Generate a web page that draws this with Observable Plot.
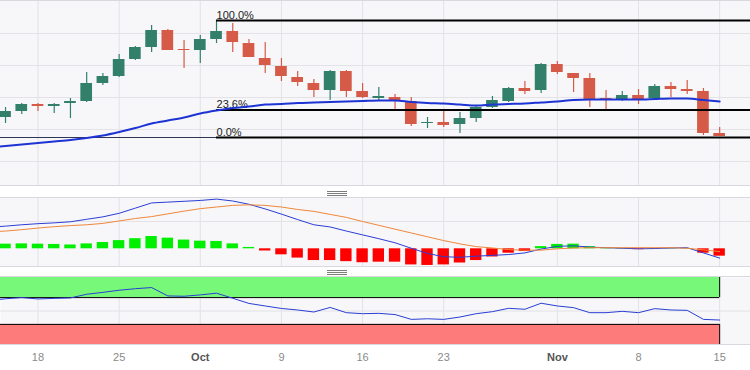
<!DOCTYPE html>
<html><head><meta charset="utf-8">
<script src="https://cdn.jsdelivr.net/npm/d3@7"></script>
<script src="https://cdn.jsdelivr.net/npm/@observablehq/plot@0.6"></script>
<style>
body{margin:0;background:#fff;font-family:"Liberation Sans",Arial,sans-serif;}
#wrap{position:relative;width:750px;height:370px;overflow:hidden;background:#fff;}
.panel{position:absolute;left:0;width:750px;overflow:hidden;}
.hline{position:absolute;left:0;width:750px;height:1px;background:#d8d8de;}
.grip{position:absolute;left:327px;width:20px;height:1px;background:#7d7d7d;}
</style></head><body><div id="wrap"></div>
<script>
// Trading days (Sep 13 is just off the left edge)
const dates = ["2023-09-13","2023-09-14","2023-09-15","2023-09-18","2023-09-19","2023-09-20","2023-09-21","2023-09-22","2023-09-25","2023-09-26","2023-09-27","2023-09-28","2023-09-29",
"2023-10-02","2023-10-03","2023-10-04","2023-10-05","2023-10-06","2023-10-09","2023-10-10","2023-10-11","2023-10-12","2023-10-13","2023-10-16","2023-10-17","2023-10-18","2023-10-19","2023-10-20","2023-10-23","2023-10-24","2023-10-25","2023-10-26","2023-10-27","2023-10-30","2023-10-31",
"2023-11-01","2023-11-02","2023-11-03","2023-11-06","2023-11-07","2023-11-08","2023-11-09","2023-11-10","2023-11-13","2023-11-14","2023-11-15"];
const open  = [0.9108,0.9116,0.9122,0.9129,0.9127,0.9130,0.9132,0.9150,0.9157,0.9174,0.9186,0.9203,0.9184,0.9183,0.9194,0.9202,0.9190,0.9175,0.9167,0.9156,0.9150,0.9143,0.9162,0.9142,0.9135,0.9136,0.9132,0.9110,0.9111,0.9109,0.9115,0.9126,0.9132,0.9145,0.9143,0.9169,0.9160,0.9155,0.9135,0.9134,0.9138,0.9135,0.9147,0.9144,0.9142,0.9100];
const close = [0.9116,0.9122,0.9129,0.9127,0.9129,0.9132,0.9150,0.9157,0.9174,0.9186,0.9203,0.9183,0.9183,0.9194,0.9202,0.9191,0.9176,0.9168,0.9157,0.9151,0.9143,0.9162,0.9142,0.9136,0.9137,0.9133,0.9109,0.9111,0.9108,0.9115,0.9126,0.9133,0.9145,0.9142,0.9169,0.9161,0.9155,0.9134,0.9134,0.9138,0.9134,0.9147,0.9144,0.9142,0.9100,0.9097];
const high  = [0.9119,0.9126,0.9130,0.9130,0.9130,0.9135,0.9161,0.9160,0.9179,0.9187,0.9208,0.9204,0.9193,0.9198,0.9213,0.9210,0.9194,0.9191,0.9175,0.9162,0.9154,0.9163,0.9163,0.9150,0.9146,0.9139,0.9136,0.9116,0.9122,0.9121,0.9127,0.9137,0.9146,0.9152,0.9170,0.9172,0.9160,0.9160,0.9143,0.9142,0.9144,0.9149,0.9151,0.9153,0.9145,0.9106];
const low   = [0.9104,0.9110,0.9119,0.9122,0.9120,0.9115,0.9131,0.9148,0.9156,0.9173,0.9181,0.9183,0.9165,0.9170,0.9190,0.9181,0.9176,0.9160,0.9152,0.9147,0.9136,0.9133,0.9136,0.9135,0.9133,0.9122,0.9107,0.9105,0.9106,0.9100,0.9111,0.9125,0.9131,0.9139,0.9140,0.9159,0.9141,0.9126,0.9122,0.9132,0.9129,0.9133,0.9136,0.9139,0.9098,0.9097];
const sma   = [0.9086,0.90875,0.9089,0.90905,0.9092,0.90935,0.90955,0.9098,0.91015,0.91055,0.9110,0.9113,0.9116,0.9120,0.9123,0.91255,0.9127,0.9129,0.91295,0.91305,0.9131,0.91315,0.9132,0.91325,0.9133,0.9133,0.91315,0.91305,0.9130,0.9129,0.9128,0.9129,0.91295,0.9130,0.9131,0.9132,0.91335,0.9134,0.9134,0.9134,0.9134,0.91345,0.9135,0.9135,0.91335,0.9132];
const macd  = [7.9,8.3,8.8,9.2,9.5,9.9,10.8,11.7,13.0,14.9,16.8,17.1,17.4,17.7,18.2,17.5,16.3,14.6,12.7,10.7,8.8,8.0,6.5,5.1,3.7,2.2,0.2,-1.7,-2.9,-3.1,-2.7,-2.4,-2.1,-1.5,-0.1,0.9,1.1,0.6,0.4,0.2,0.0,0.1,0.3,0.4,-1.5,-3.4];
const signal= [6.2,6.5,7.0,7.6,8.1,8.5,8.8,9.3,10.2,11.1,11.8,12.8,13.8,14.7,15.3,15.9,16.1,15.9,15.3,14.4,13.7,12.6,11.5,10.0,8.6,7.2,5.8,4.4,3.0,1.8,0.8,0.3,-0.3,-0.5,-0.5,0.0,0.3,0.4,0.4,0.4,0.4,0.4,0.4,0.2,-0.4,-1.0];
const hist  = [1.6,1.7,1.8,1.7,1.6,1.4,1.8,2.3,3.0,3.7,4.5,3.9,3.2,2.8,2.7,1.8,0.5,-0.8,-2.2,-3.4,-4.3,-4.3,-4.7,-5.1,-4.9,-4.9,-5.9,-6.1,-5.9,-5.2,-4.3,-3.0,-1.6,-1.0,0.8,1.6,1.7,0.8,0.2,0.1,-0.3,0.1,0.1,0.1,-1.6,-2.7];
const rsi   = [65.5,68.3,70,68,68.8,69.5,75,77.8,81,83.3,85,72.5,72,74,76.6,69,61.3,57.5,53.8,51.5,48.5,55.3,47.5,46,46.5,44.7,37.5,38.4,37.5,41,46,49,54,52.6,61.6,57.5,55,47.5,47.5,49.5,47.5,53.5,51.5,51,37.5,36.5];

const tickDates  = ["2023-09-18","2023-09-25","2023-10-02","2023-10-09","2023-10-16","2023-10-23","2023-11-01","2023-11-08","2023-11-15"];
const tickLabels = ["18","25","Oct","9","16","23","Nov","8","15"];
const gridPrices = [0.9200,0.9168,0.9136,0.9104,0.9072];
const fibHigh = 0.9213, fibLow = 0.9096, fibStartDate = "2023-10-03";
const fibLevels = [1, 0.236, 0];
const fibLabels = ["100.0%","23.6%","0.0%"];
const macdGrid = [10];
const rsiBands = [70, 30];

const GREEN = "#33806a", RED = "#d65a48", GRID = "#e2e2e7", BG = "#f7f7f9";
const FONT = "'Liberation Sans', Arial, sans-serif";
const xDomain = [0.69, 46.9];
const idx = d3.range(dates.length);
const lastK = idx.length - 1;
const tickIdx = tickDates.map(d => dates.indexOf(d));
const ticks = tickIdx.map((k, i) => ({k, label: tickLabels[i], month: isNaN(+tickLabels[i])}));
const candles = idx.map(k => ({k, o: open[k], c: close[k], h: high[k], l: low[k], up: close[k] >= open[k]}));
const fibK = dates.indexOf(fibStartDate);
const fib = fibLevels.map((f, i) => ({price: fibLow + f * (fibHigh - fibLow), label: fibLabels[i]}));

const main = Plot.plot({
  width: 750, height: 184, margin: 0,
  x: {domain: xDomain, axis: null},
  y: {domain: [0.9048, 0.9232], axis: null},
  style: {background: BG, fontFamily: FONT},
  marks: [
    Plot.ruleY(gridPrices, {stroke: GRID}),
    Plot.ruleX(tickIdx, {stroke: GRID}),
    Plot.ruleY([fibLow], {stroke: "#2f3557", strokeWidth: 1}),
    Plot.ruleX(candles, {x: "k", y1: "l", y2: "h", stroke: d => d.up ? GREEN : RED, strokeWidth: 1.2}),
    Plot.rect(candles, {x1: d => d.k - 0.36, x2: d => d.k + 0.36, y1: d => Math.min(d.o, d.c), y2: d => Math.max(d.o, d.c), fill: d => d.up ? GREEN : RED}),
    Plot.ruleY(fib, {y: "price", x1: fibK, x2: xDomain[1], stroke: "#000", strokeWidth: 2}),
    Plot.text(fib, {x: () => fibK, y: "price", text: "label", textAnchor: "start", lineAnchor: "bottom", dy: -2, fontSize: 11, fill: "#222"}),
    Plot.line(idx, {x: k => k, y: k => sma[k], stroke: "#1d33d4", strokeWidth: 2, curve: "monotone-x", clip: true})
  ]
});

const macdPlot = Plot.plot({
  width: 750, height: 68, margin: 0,
  x: {domain: xDomain, axis: null},
  y: {domain: [-6.48, 18.42], axis: null},
  style: {background: BG, fontFamily: FONT},
  marks: [
    Plot.ruleY(macdGrid, {stroke: GRID}),
    Plot.ruleX(tickIdx, {stroke: GRID}),
    Plot.rect(idx, {x1: k => k - 0.35, x2: k => k + 0.35, y1: k => 0, y2: k => hist[k], fill: k => hist[k] >= 0 ? "#00ee00" : "#ff0000"}),
    Plot.line(idx, {x: k => k, y: k => macd[k], stroke: "#2b3dd6", strokeWidth: 1, clip: true}),
    Plot.line(idx, {x: k => k, y: k => signal[k], stroke: "#f0873a", strokeWidth: 1, clip: true})
  ]
});

const rsiPlot = Plot.plot({
  width: 750, height: 93, marginTop: 0, marginBottom: 26, marginLeft: 0, marginRight: 0,
  x: {domain: xDomain, axis: null},
  y: {domain: [0, 100], axis: null},
  style: {background: "transparent", fontFamily: FONT},
  marks: [
    Plot.frame({fill: BG, stroke: null}),
    Plot.ruleY([50], {stroke: GRID}),
    Plot.ruleX(tickIdx, {stroke: GRID}),
    Plot.rect([rsiBands[0]], {x1: () => xDomain[0], x2: () => lastK, y1: d => d, y2: () => 100, fill: "#78f878"}),
    Plot.rect([rsiBands[1]], {x1: () => xDomain[0], x2: () => lastK, y1: () => 0, y2: d => d, fill: "#fd7b7b"}),
    Plot.ruleY(rsiBands, {x1: () => xDomain[0], x2: () => lastK, stroke: "#000", strokeWidth: 1}),
    Plot.ruleX([lastK], {y1: () => rsiBands[0], y2: () => 100, stroke: "#000"}),
    Plot.ruleX([lastK], {y1: () => 0, y2: () => rsiBands[1], stroke: "#000"}),
    Plot.line(idx, {x: k => k, y: k => rsi[k], stroke: "#2a3ed4", strokeWidth: 1, clip: true}),
    Plot.text(ticks.filter(t => !t.month), {x: "k", text: "label", frameAnchor: "bottom", dy: 13, lineAnchor: "middle", fontSize: 11, fill: "#8a8a8a"}),
    Plot.text(ticks.filter(t => t.month), {x: "k", text: "label", frameAnchor: "bottom", dy: 13, lineAnchor: "middle", fontSize: 11, fontWeight: "bold", fill: "#555"})
  ]
});

const wrap = document.getElementById("wrap");
function place(node, top, h) {
  const d = document.createElement("div");
  d.className = "panel"; d.style.top = top + "px"; d.style.height = h + "px";
  d.appendChild(node); wrap.appendChild(d);
}
place(main, 1, 184);
place(macdPlot, 198, 68);
place(rsiPlot, 277, 93);
for (const y of [0, 185, 197, 266, 276, 344]) {
  const l = document.createElement("div"); l.className = "hline"; l.style.top = y + "px"; wrap.appendChild(l);
}
for (const y of [191, 193, 195, 270, 272, 274]) {
  const g = document.createElement("div"); g.className = "grip"; g.style.top = y + "px"; wrap.appendChild(g);
}
</script></body></html>
